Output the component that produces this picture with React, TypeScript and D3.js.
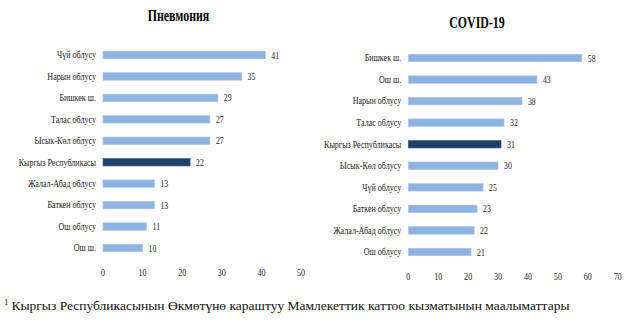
import React from "react";
import * as d3 from "d3";

const pneuCategories = ["Чүй облусу", "Нарын облусу", "Бишкек ш.", "Талас облусу", "Ысык-Көл облусу", "Кыргыз Республикасы", "Жалал-Абад облусу", "Баткен облусу", "Ош облусу", "Ош ш."];
const pneuValues = [41, 35, 29, 27, 27, 22, 13, 13, 11, 10];
const covidCategories = ["Бишкек ш.", "Ош ш.", "Нарын облусу", "Талас облусу", "Кыргыз Республикасы", "Ысык-Көл облусу", "Чүй облусу", "Баткен облусу", "Жалал-Абад облусу", "Ош облусу"];
const covidValues = [58, 43, 38, 32, 31, 30, 25, 23, 22, 21];
const pneuTicks = [0, 10, 20, 30, 40, 50];
const covidTicks = [0, 10, 20, 30, 40, 50, 60, 70];
const highlight = "Кыргыз Республикасы";
const footnote = "Кыргыз Республикасынын Өкмөтүнө караштуу Мамлекеттик каттоо кызматынын маалыматтары";

const LIGHT = "#8db3e2";
const DARK = "#203f6b";
const FONT = "'Liberation Serif', 'Times New Roman', serif";

type PanelProps = {
  title: string; titleX: number; titleY: number;
  cats: string[]; vals: number[]; ticks: number[];
  x0: number; x1: number; y0: number; y1: number; tickY: number;
};

function Panel({ title, titleX, titleY, cats, vals, ticks, x0, x1, y0, y1, tickY }: PanelProps) {
  const x = d3.scaleLinear().domain([ticks[0], ticks[ticks.length - 1]]).range([x0, x1]);
  const y = d3.scalePoint<string>().domain(cats).range([y0, y1]);
  const bh = 7.5;
  return (
    <g>
      <text transform={`translate(${titleX},${titleY}) scale(0.7,1)`} textAnchor="middle" fontFamily={FONT} fontWeight="bold" fontSize={17} fill="#000">{title}</text>
      {cats.map((c, i) => {
        const cy = y(c)!;
        return (
          <g key={c}>
            <text transform={`translate(${x0 - 7},${cy + 3.3}) scale(0.85,1)`} textAnchor="end" fontFamily={FONT} fontSize={9.5} fill="#222">{c}</text>
            <rect x={x(0)} y={cy - bh / 2} width={x(vals[i]) - x(0)} height={bh} fill={c === highlight ? DARK : LIGHT} stroke={c === highlight ? "#3a5a8a" : "#a9c6ea"} strokeWidth={0.6} />
            <text transform={`translate(${x(vals[i]) + 6},${cy + 3.5}) scale(0.78,1)`} fontFamily={FONT} fontSize={10} fill="#222">{vals[i]}</text>
          </g>
        );
      })}
      {ticks.map((t) => (
        <text key={t} transform={`translate(${x(t)},${tickY}) scale(0.85,1)`} textAnchor="middle" fontFamily={FONT} fontSize={9.5} fill="#222">{t}</text>
      ))}
    </g>
  );
}

export default function App() {
  return (
    <svg width={632} height={327} style={{ position: "absolute", left: 0, top: 0, background: "#fff" }}>
      <rect x={0} y={0} width={632} height={327} fill="#fff" />
      <Panel title="Пневмония" titleX={178.5} titleY={21} cats={pneuCategories} vals={pneuValues} ticks={pneuTicks}
        x0={103} x1={301} y0={55} y1={248} tickY={276} />
      <Panel title="COVID-19" titleX={477} titleY={28} cats={covidCategories} vals={covidValues} ticks={covidTicks}
        x0={408.3} x1={617.7} y0={58} y1={252} tickY={280} />
      <text x={4} y={310} fontFamily={FONT} fontSize={13.5} fill="#111">
        <tspan fontSize={9} dy={-5}>1</tspan>
        <tspan dx={3} dy={5}>{footnote}</tspan>
      </text>
    </svg>
  );
}
